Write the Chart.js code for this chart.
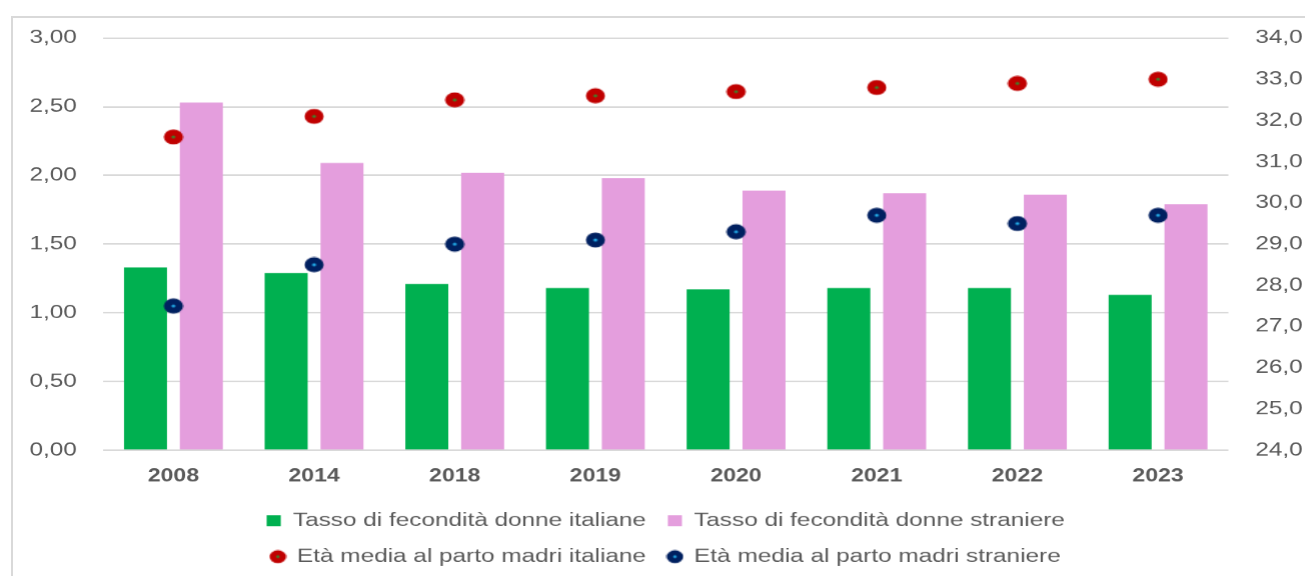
<!DOCTYPE html>
<html>
<head>
<meta charset="utf-8">
<script src="https://cdn.jsdelivr.net/npm/chart.js@4/dist/chart.umd.min.js"></script>
<style>
html, body { margin: 0; padding: 0; background: #ffffff; overflow: hidden; }
#frame { position: absolute; left: 11px; top: 16px; width: 1292px; height: 570px; border-left: 2px solid #d9d9d9; border-top: 2px solid #d9d9d9; }
#wrap { position: absolute; left: 0; top: 0; width: 1021px; height: 576px; transform: scaleX(1.28); transform-origin: 0 0; }
</style>
</head>
<body>
<div id="frame"></div>
<div id="wrap"><canvas id="natalita"></canvas></div>
<script>

// data

const anni = ["2008", "2014", "2018", "2019", "2020", "2021", "2022", "2023"];

const tassoItaliane = [1.33, 1.29, 1.21, 1.18, 1.17, 1.18, 1.18, 1.13];
const tassoStraniere = [2.53, 2.09, 2.02, 1.98, 1.89, 1.87, 1.86, 1.79];

const etaItaliane = [31.6, 32.1, 32.5, 32.6, 32.7, 32.8, 32.9, 33.0];
const etaStraniere = [27.5, 28.5, 29.0, 29.1, 29.3, 29.7, 29.5, 29.7];

const ticksSinistra = [0, 0.5, 1, 1.5, 2, 2.5, 3];
const ticksDestra = [24, 25, 26, 27, 28, 29, 30, 31, 32, 33, 34];

// marker: filled dot with a small coloured centre

function marker(size, fill, centre){
let c = document.createElement("canvas");
c.width = size;
c.height = size;
let g = c.getContext("2d");
g.fillStyle = fill;
g.beginPath();
g.arc(size/2, size/2, size/2 - 0.5, 0, Math.PI*2);
g.fill();
g.fillStyle = centre;
g.beginPath();
g.arc(size/2, size/2, Math.max(1.2, size/10), 0, Math.PI*2);
g.fill();
return c;
}

const puntoRosso = marker(16, "#c00000", "#3f7f2a");
const puntoBlu = marker(16, "#002060", "#22a9e6");
const legendaRosso = marker(14, "#c00000", "#3f7f2a");
const legendaBlu = marker(14, "#002060", "#22a9e6");

const grigio = "#595959";
const fontBase = "Liberation Sans, Arial, sans-serif";

let ctx = document.getElementById("natalita").getContext("2d");

new Chart(ctx, {

data: {
labels: anni,
datasets: [
{
type: "bar",
label: "Tasso di fecondità donne italiane",
data: tassoItaliane,
backgroundColor: "#00b050",
pointStyle: "rect",
yAxisID: "y",
order: 2,
categoryPercentage: 0.794,
barPercentage: 0.77
},
{
type: "bar",
label: "Tasso di fecondità donne straniere",
data: tassoStraniere,
backgroundColor: "#e49edd",
pointStyle: "rect",
yAxisID: "y",
order: 2,
categoryPercentage: 0.794,
barPercentage: 0.77
},
{
type: "line",
label: "Età media al parto madri italiane",
data: etaItaliane,
showLine: false,
pointStyle: puntoRosso,
backgroundColor: "#c00000",
borderColor: "#c00000",
yAxisID: "y1",
order: 1
},
{
type: "line",
label: "Età media al parto madri straniere",
data: etaStraniere,
showLine: false,
pointStyle: puntoBlu,
backgroundColor: "#002060",
borderColor: "#002060",
yAxisID: "y1",
order: 1
}
]
},

options: {
responsive: true,
maintainAspectRatio: false,
animation: false,
devicePixelRatio: 1.28,
events: [],
layout: {
padding: { top: 38, left: 20, right: 2, bottom: 0 }
},
scales: {
x: {
afterFit: axis => { axis.height = 44; },
grid: { display: false, drawTicks: false },
border: { display: false },
ticks: {
color: grigio,
padding: 15,
font: { family: fontBase, size: 18, weight: "bold", lineHeight: 22 / 18 }
}
},
y: {
position: "left",
min: 0,
max: 3,
afterBuildTicks: axis => { axis.ticks = ticksSinistra.map(v => ({ value: v })); },
afterFit: axis => { axis.width = 60.5; },
grid: { color: "#d9d9d9", lineWidth: 1.5, drawTicks: false },
border: { display: false },
ticks: {
color: grigio,
padding: 20.5,
font: { family: fontBase, size: 19 },
callback: v => Number(v).toFixed(2).replace(".", ",")
}
},
y1: {
position: "right",
min: 24,
max: 34,
afterBuildTicks: axis => { axis.ticks = ticksDestra.map(v => ({ value: v })); },
afterFit: axis => { axis.width = 60; },
grid: { display: false, drawTicks: false },
border: { display: false },
ticks: {
color: grigio,
padding: 21,
font: { family: fontBase, size: 19 },
callback: v => Number(v).toFixed(1).replace(".", ",")
}
}
},
plugins: {
tooltip: { enabled: false },
legend: {
position: "bottom",
fullSize: false,
labels: {
color: grigio,
usePointStyle: true,
boxWidth: 11,
boxHeight: 11,
padding: 17,
font: { family: fontBase, size: 19 },
sort: (a, b) => a.datasetIndex - b.datasetIndex,
generateLabels: chart => {
let items = Chart.defaults.plugins.legend.labels.generateLabels(chart);
items.forEach(it => {
if (it.datasetIndex === 2) it.pointStyle = legendaRosso;
if (it.datasetIndex === 3) it.pointStyle = legendaBlu;
});
return items;
}
}
}
}
}

});

</script>
</body>
</html>
